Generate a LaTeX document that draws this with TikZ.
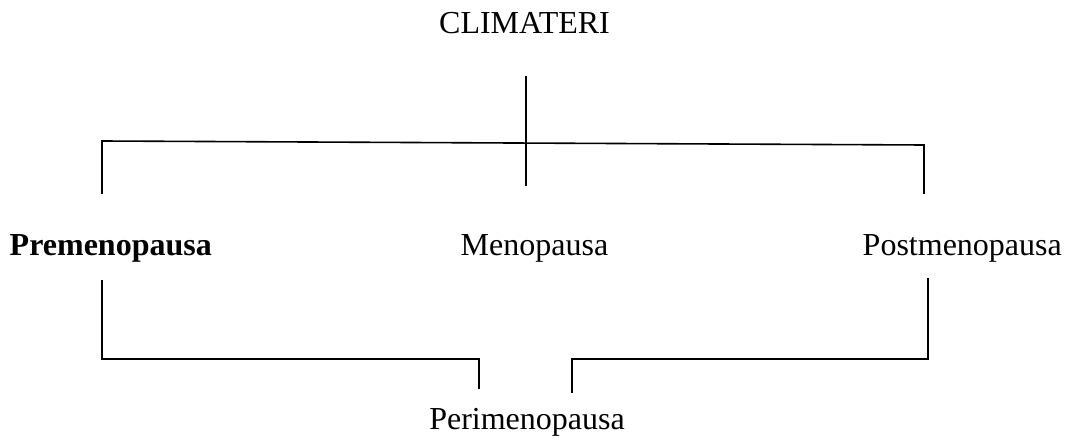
\documentclass[tikz,border=0pt]{standalone}
\usepackage{fontspec}
\setmainfont{Liberation Serif}
\begin{document}
\begin{tikzpicture}[x=1pt,y=-1pt,
  lbl/.style={inner sep=0pt,font=\fontsize{32}{38}\selectfont},
  boldlbl/.style={lbl,font=\fontsize{32}{38}\selectfont\bfseries},
  wire/.style={line width=1.6pt,line join=miter}]
\useasboundingbox (0,0) rectangle (1067,446);

% labels
\node[lbl,anchor=base] (clim) at (524.5,34) {CLIMATERI};
\node[boldlbl,anchor=base east] (pre) at (212,255) {Premenopausa};
\node[lbl,anchor=base] (meno) at (534.5,255) {Menopausa};
\node[lbl,anchor=base east] (post) at (1062,255) {Postmenopausa};
\node[lbl,anchor=base] (peri) at (527,429) {Perimenopausa};

% upper bracket
\coordinate (stemTop) at (526,76);
\coordinate (stemBot) at (526,186);
\coordinate (preTop) at (102,194);
\coordinate (barL) at (102,141);
\coordinate (barR) at (924,145);
\coordinate (postTop) at (924,194);
\draw[wire] (stemTop) -- (stemBot);
\draw[wire] (preTop) -- (barL) -- (barR) -- (postTop);

% lower brackets joining into the perimenopause
\coordinate (preBot) at (102,280);
\coordinate (lowL) at (102,359);
\coordinate (lowLm) at (479,359);
\coordinate (periL) at (479,389);
\coordinate (postBot) at (928,278);
\coordinate (lowR) at (928,359);
\coordinate (lowRm) at (572,359);
\coordinate (periR) at (572,393);
\draw[wire] (preBot) -- (lowL) -- (lowLm) -- (periL);
\draw[wire] (postBot) -- (lowR) -- (lowRm) -- (periR);
\end{tikzpicture}
\end{document}
